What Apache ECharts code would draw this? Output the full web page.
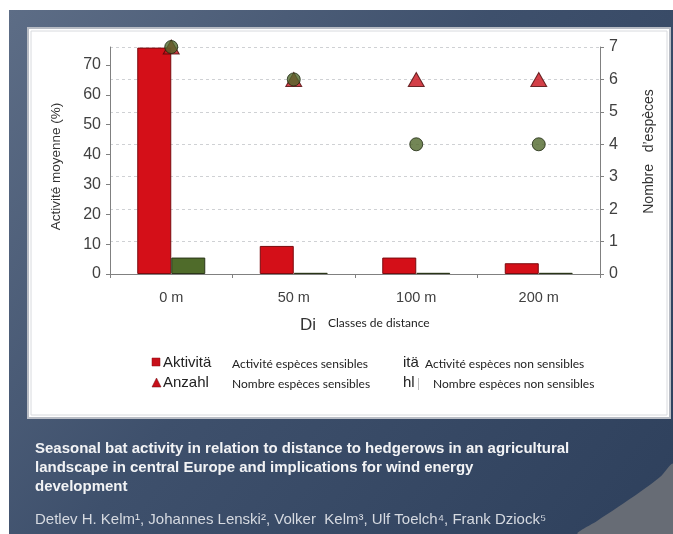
<!DOCTYPE html>
<html>
<head>
<meta charset="utf-8">
<script src="https://cdn.jsdelivr.net/npm/echarts@6/dist/echarts.min.js"></script>
<style>
html,body{margin:0;padding:0;background:#ffffff;}
#chart{width:673px;height:534px;}
</style>
</head>
<body>
<div id="chart"></div>
<script>
// ---- data ----
var categories = ['0 m', '50 m', '100 m', '200 m'];
var activitySensitive = [75.8, 9.4, 5.5, 3.6];
var activityNonSensitive = [5.5, 0.4, 0.4, 0.4];
var countSensitive = [7, 6, 6, 6];
var countNonSensitive = [7, 6, 4, 4];
var leftTicks = [0, 10, 20, 30, 40, 50, 60, 70];
var rightTicks = [0, 1, 2, 3, 4, 5, 6, 7];

var seriesNames = ['Activité espèces sensibles', 'Activité espèces non sensibles',
                   'Nombre espèces sensibles', 'Nombre espèces non sensibles'];
var titleLines = ['Seasonal bat activity in relation to distance to hedgerows in an agricultural',
                  'landscape in central Europe and implications for wind energy',
                  'development'];
var authors = 'Detlev H. Kelm\u00b9, Johannes Lenski\u00b2, Volker  Kelm\u00b3, Ulf Toelch\u2074, Frank Dziock\u2075';

var chart = echarts.init(document.getElementById('chart'), null, {renderer: 'canvas'});
var AR = '"Liberation Sans", Arial, sans-serif';
var CAL = 'Lato, "Open Sans", sans-serif';
var labelColor = '#404040';

var graphics = [
  // dark slide background
  {type: 'rect', z: -10, silent: true, shape: {x: 9, y: 10, width: 664, height: 524},
   style: {fill: new echarts.graphic.LinearGradient(0, 0, 1, 1, [
     {offset: 0, color: '#5d6d86'}, {offset: 0.45, color: '#3e506c'}, {offset: 1, color: '#2e405c'}])}},
  // lighter curved shape bottom right
  {type: 'polygon', z: -9, silent: true,
   shape: {points: [[673, 464], [660, 477], [640, 492], [618, 507], [597, 521], [578, 534], [673, 534]], smooth: 0.3},
   style: {fill: '#676c75'}},
  // white chart panel
  {type: 'rect', z: -8, silent: true, shape: {x: 28, y: 28, width: 642, height: 390},
   style: {fill: '#ffffff', stroke: '#b8bcc4', lineWidth: 2}},
  {type: 'rect', z: -7, silent: true, shape: {x: 31, y: 31, width: 636, height: 384},
   style: {fill: 'none', stroke: '#d8dade', lineWidth: 1}},
  // axis title fragments
  {type: 'text', left: 300, top: 317, silent: true,
   style: {text: 'Di', font: '17px ' + AR, fill: '#333333'}},
  {type: 'text', left: 328, top: 317, silent: true,
   style: {text: 'Classes de distance', font: '12px ' + CAL, fill: '#222222'}},
  // legend overlay
  {type: 'rect', silent: true, shape: {x: 152, y: 358, width: 8, height: 8},
   style: {fill: '#c8101a', stroke: '#8a0a10', lineWidth: 0.5}},
  {type: 'text', left: 163, top: 355, silent: true,
   style: {text: 'Aktivitä', font: '15px ' + AR, fill: '#222222'}},
  {type: 'text', left: 232, top: 358, silent: true,
   style: {text: seriesNames[0], font: '12px ' + CAL, fill: '#222222'}},
  {type: 'text', left: 403, top: 355, silent: true,
   style: {text: 'itä', font: '15px ' + AR, fill: '#222222'}},
  {type: 'text', left: 425, top: 358, silent: true,
   style: {text: seriesNames[1], font: '12px ' + CAL, fill: '#222222'}},
  {type: 'polygon', silent: true, shape: {points: [[156.5, 378], [152, 387], [161, 387]]},
   style: {fill: '#c8101a', stroke: '#6a0a10', lineWidth: 0.5}},
  {type: 'text', left: 163, top: 375, silent: true,
   style: {text: 'Anzahl', font: '15px ' + AR, fill: '#222222'}},
  {type: 'text', left: 232, top: 378, silent: true,
   style: {text: seriesNames[2], font: '12px ' + CAL, fill: '#222222'}},
  {type: 'text', left: 403, top: 375, silent: true,
   style: {text: 'hl', font: '15px ' + AR, fill: '#222222'}},
  {type: 'rect', silent: true, shape: {x: 418, y: 378, width: 1, height: 12},
   style: {fill: '#bbbbbb'}},
  {type: 'text', left: 433, top: 378, silent: true,
   style: {text: seriesNames[3], font: '12px ' + CAL, fill: '#222222'}},
  // slide title and authors
  {type: 'text', left: 35, top: 439, silent: true,
   style: {text: titleLines.join('\n'), font: 'bold 15px ' + AR, lineHeight: 19, fill: '#f2f3f5'}},
  {type: 'text', left: 35, top: 512, silent: true,
   style: {text: authors, font: '15px ' + AR, fill: '#d6dae1'}}
];

var option = {
  animation: false,
  backgroundColor: 'transparent',
  graphic: graphics,
  grid: {left: 110, right: 73, top: 47, bottom: 260, containLabel: false},
  xAxis: {
    type: 'category',
    data: categories,
    axisLine: {show: true, lineStyle: {color: '#808080', width: 1}},
    axisTick: {show: true, length: 4, lineStyle: {color: '#808080'}},
    axisLabel: {fontFamily: AR, fontSize: 14.5, color: labelColor, margin: 16},
    splitLine: {show: false}
  },
  yAxis: [
    {
      type: 'value', min: 0, max: 76, interval: 10, position: 'left',
      name: 'Activité moyenne (%)', nameLocation: 'middle', nameRotate: 90, nameGap: 47,
      nameTextStyle: {fontFamily: AR, fontSize: 13.5, color: '#333333', padding: [0, 12, 0, 0]},
      axisLine: {show: true, lineStyle: {color: '#808080'}},
      axisTick: {show: true, length: 4, customValues: leftTicks, lineStyle: {color: '#808080'}},
      axisLabel: {fontFamily: AR, fontSize: 16, color: labelColor, margin: 9, customValues: leftTicks},
      splitLine: {show: false}
    },
    {
      type: 'value', min: 0, max: 7, interval: 1, position: 'right',
      name: 'Nombre   d\u2019espèces', nameLocation: 'middle', nameRotate: 90, nameGap: 42,
      nameTextStyle: {fontFamily: AR, fontSize: 14, color: '#333333', padding: [0, 0, 0, 18]},
      axisLine: {show: true, lineStyle: {color: '#808080'}},
      axisTick: {show: true, length: 4, lineStyle: {color: '#808080'}},
      axisLabel: {fontFamily: AR, fontSize: 16, color: labelColor, margin: 9},
      splitLine: {show: true, lineStyle: {color: '#cfd1d4', type: [3, 3], width: 1}}
    }
  ],
  series: [
    {
      name: seriesNames[0], type: 'bar', yAxisIndex: 0, data: activitySensitive,
      barWidth: 34, barGap: '0%',
      itemStyle: {color: '#d40f18', borderColor: '#7a0a0e', borderWidth: 1}
    },
    {
      name: seriesNames[1], type: 'bar', yAxisIndex: 0, data: activityNonSensitive,
      barWidth: 34, barGap: '0%',
      itemStyle: {color: '#4f6b2a', borderColor: '#2a3618', borderWidth: 1}
    },
    {
      name: seriesNames[2], type: 'scatter', yAxisIndex: 1, data: countSensitive,
      symbol: 'triangle', symbolSize: [16, 14], z: 3,
      itemStyle: {color: '#c8101a', borderColor: '#4a0808', borderWidth: 1}
    },
    {
      name: seriesNames[3], type: 'scatter', yAxisIndex: 1, data: countNonSensitive,
      symbol: 'circle', symbolSize: 13, z: 4,
      itemStyle: {color: '#50682c', borderColor: '#1e2810', borderWidth: 1}
    }
  ]
};
chart.setOption(option);
</script>
</body>
</html>
